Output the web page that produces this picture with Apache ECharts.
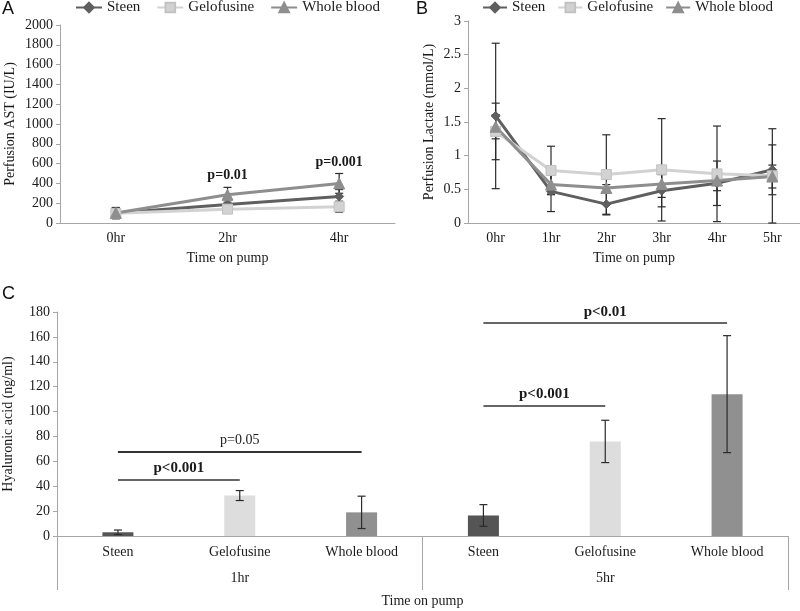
<!DOCTYPE html>
<html><head><meta charset="utf-8">
<script src="https://cdn.jsdelivr.net/npm/echarts@6/dist/echarts.min.js"></script>
<style>html,body{margin:0;padding:0;background:#fff}#c{width:800px;height:611px}</style>
</head><body><div id="c"></div>
<script>
// ---- Panel A data ----
const hoursA = ['0hr', '2hr', '4hr'];
const astSteen = [100, 188, 268];
const astSteenErr = [55, 45, 70];
const astGelo = [98, 140, 165];
const astGeloErr = [55, 40, 55];
const astWhole = [102, 285, 400];
const astWholeErr = [55, 75, 100];
const astPLabels = ['', 'p=0.01', 'p=0.001'];
const astPLevels = [null, 485, 616];

// ---- Panel B data ----
const hoursB = ['0hr', '1hr', '2hr', '3hr', '4hr', '5hr'];
const lacSteen = [1.59, 0.47, 0.28, 0.48, 0.59, 0.79];
const lacSteenErr = [1.08, 0.30, 0.16, 0.24, 0.33, 0.37];
const lacGelo = [1.36, 0.78, 0.72, 0.79, 0.73, 0.70];
const lacGeloErr = [0.42, 0.36, 0.59, 0.76, 0.71, 0.70];
const lacWhole = [1.43, 0.57, 0.52, 0.58, 0.63, 0.69];
const lacWholeErr = [0.18, 0.14, 0.05, 0.20, 0.15, 0.17];

// ---- Panel C data ----
const groupsC = ['Steen', 'Gelofusine', 'Whole blood', 'Steen', 'Gelofusine', 'Whole blood'];
const timesC = ['1hr', '5hr'];
const haValues = [3, 32.5, 19, 16.5, 76, 114];
const haErr = [1.8, 4, 13, 8.7, 17, 47];
const bracketFrom = [0, 0, 3, 3];
const bracketTo = [1, 2, 4, 5];
const bracketLevel = [45.4, 67.7, 104.5, 171];
const bracketText = ['p<0.001', 'p=0.05', 'p<0.001', 'p<0.01'];
const bracketBold = [true, false, true, true];

const FONT = 'Liberation Serif';
const AXC = '#a6a6a6';
const TXT = '#1a1a1a';
const cSteen = '#5f5f5f', cGelo = '#d2d2d2', cWhole = '#8e8e8e';
const barColors = ['#555555', '#dddddd', '#909090'];

function errItem(params, api) {
  const x = api.value(0), lo = api.value(1), hi = api.value(2);
  const p1 = api.coord([x, hi]), p2 = api.coord([x, lo]);
  const w = 4;
  const style = { stroke: '#2a2a2a', lineWidth: 1.2 };
  return { type: 'group', children: [
    { type: 'line', shape: { x1: p1[0], y1: p1[1], x2: p2[0], y2: p2[1] }, style },
    { type: 'line', shape: { x1: p1[0] - w, y1: p1[1], x2: p1[0] + w, y2: p1[1] }, style },
    { type: 'line', shape: { x1: p2[0] - w, y1: p2[1], x2: p2[0] + w, y2: p2[1] }, style }
  ]};
}
function errSeries(name, vals, errs, xi, yi, z) {
  return { type: 'custom', name, xAxisIndex: xi, yAxisIndex: yi, renderItem: errItem,
    encode: { x: 0, y: [1, 2] }, z: z || 2, silent: true,
    data: vals.map((v, i) => [i, Math.max(0, v - errs[i]), v + errs[i]]) };
}
function lineSeries(name, data, xi, yi, color, symbol, size, border) {
  return { type: 'line', name, xAxisIndex: xi, yAxisIndex: yi, data, symbol, symbolSize: size,
    lineStyle: { color, width: 3 }, itemStyle: { color, borderColor: border || color, borderWidth: 1 }, z: 3 };
}

const axisLabel = { fontFamily: FONT, fontSize: 14, color: TXT };
const nameStyle = { fontFamily: FONT, fontSize: 14, color: TXT };

function yAxisDef(grid, max, interval, name, gap) {
  return { type: 'value', gridIndex: grid, min: 0, max, interval, name, nameLocation: 'middle', nameGap: gap,
    nameTextStyle: nameStyle, splitLine: { show: false },
    axisLine: { show: true, lineStyle: { color: AXC } },
    axisTick: { show: true, length: 4, lineStyle: { color: AXC } },
    axisLabel: Object.assign({ margin: 7, formatter: v => String(v) }, axisLabel) };
}

const series = [
  errSeries('eAs', astSteen, astSteenErr, 0, 0),
  errSeries('eAg', astGelo, astGeloErr, 0, 0),
  errSeries('eAw', astWhole, astWholeErr, 0, 0),
  lineSeries('Steen', astSteen, 0, 0, cSteen, 'diamond', 9),
  lineSeries('Gelofusine', astGelo, 0, 0, cGelo, 'rect', 10, '#c2c2c2'),
  Object.assign(lineSeries('Whole blood', astWhole, 0, 0, cWhole, 'triangle', 11), {
    markPoint: { symbol: 'circle', symbolSize: 1, itemStyle: { color: 'rgba(0,0,0,0)' },
      label: { show: true, position: 'inside', formatter: p => p.name, fontFamily: FONT, fontSize: 14, fontWeight: 'bold', color: TXT },
      data: hoursA.map((h, i) => astPLabels[i] ? { name: astPLabels[i], coord: [i, astPLevels[i]] } : null).filter(Boolean) }
  }),
  errSeries('eBs', lacSteen, lacSteenErr, 1, 1),
  errSeries('eBg', lacGelo, lacGeloErr, 1, 1),
  errSeries('eBw', lacWhole, lacWholeErr, 1, 1),
  lineSeries('Steen', lacSteen, 1, 1, cSteen, 'diamond', 9),
  lineSeries('Gelofusine', lacGelo, 1, 1, cGelo, 'rect', 10, '#c2c2c2'),
  lineSeries('Whole blood', lacWhole, 1, 1, cWhole, 'triangle', 11),
  { type: 'bar', name: 'HA', xAxisIndex: 2, yAxisIndex: 2, data: haValues, barWidth: 31,
    itemStyle: { color: p => barColors[p.dataIndex % 3] }, z: 2,
    markLine: { symbol: 'none', silent: true,
      data: bracketFrom.map((f, i) => [
        { coord: [f, bracketLevel[i]], lineStyle: { color: '#333', width: bracketBold[i] ? 1.5 : 2.2, type: 'solid' },
          label: { show: true, position: 'insideMiddleTop', distance: 4, formatter: bracketText[i], fontFamily: FONT, fontSize: bracketBold[i] ? 15 : 14, fontWeight: bracketBold[i] ? 'bold' : 'normal', color: TXT } },
        { coord: [bracketTo[i], bracketLevel[i]] }
      ]) } },
  errSeries('eC', haValues, haErr, 2, 2, 5)
];

const legendBase = { itemHeight: 12, top: 0, padding: 0, width: 340,
  textStyle: { fontFamily: FONT, fontSize: 15, color: TXT }, data: ['Steen', 'Gelofusine', 'Whole blood'] };

const option = {
  animation: false,
  backgroundColor: '#fff',
  legend: [Object.assign({ left: 75, itemWidth: 26, itemGap: 16 }, legendBase),
           Object.assign({ left: 482, itemWidth: 24, itemGap: 12 }, legendBase)],
  grid: [
    { left: 60, top: 25, width: 335, height: 198, outerBoundsMode: 'none', containLabel: false },
    { left: 468, top: 21, width: 332, height: 202, outerBoundsMode: 'none', containLabel: false },
    { left: 57, top: 312, width: 731, height: 224, outerBoundsMode: 'none', containLabel: false }
  ],
  xAxis: [
    { type: 'category', gridIndex: 0, data: hoursA, name: 'Time on pump', nameLocation: 'middle', nameGap: 28,
      nameTextStyle: nameStyle, axisLine: { lineStyle: { color: AXC } }, axisTick: { show: false },
      axisLabel: Object.assign({ margin: 8 }, axisLabel) },
    { type: 'category', gridIndex: 1, data: hoursB, name: 'Time on pump', nameLocation: 'middle', nameGap: 28,
      nameTextStyle: nameStyle, axisLine: { lineStyle: { color: AXC } }, axisTick: { show: false },
      axisLabel: Object.assign({ margin: 8 }, axisLabel) },
    { type: 'category', gridIndex: 2, data: groupsC, axisLine: { lineStyle: { color: AXC } }, axisTick: { show: false },
      axisLabel: Object.assign({ margin: 9, interval: 0 }, axisLabel) },
    { type: 'category', gridIndex: 2, data: timesC, position: 'bottom', name: 'Time on pump', nameLocation: 'middle', nameGap: 58,
      nameTextStyle: nameStyle, axisLine: { show: false },
      axisTick: { show: true, length: 54, interval: 0, lineStyle: { color: AXC } },
      axisLabel: Object.assign({ margin: 35, interval: 0 }, axisLabel) }
  ],
  yAxis: [
    yAxisDef(0, 2000, 200, 'Perfusion AST (IU/L)', 43),
    yAxisDef(1, 3, 0.5, 'Perfusion Lactate (mmol/L)', 32),
    yAxisDef(2, 180, 20, 'Hyaluronic acid (ng/ml)', 42)
  ],
  graphic: [
    { type: 'text', left: 2, top: 0, style: { text: 'A', fontFamily: 'Liberation Sans', fontSize: 18, fill: '#111' } },
    { type: 'text', left: 416, top: 0, style: { text: 'B', fontFamily: 'Liberation Sans', fontSize: 18, fill: '#111' } },
    { type: 'text', left: 2, top: 285, style: { text: 'C', fontFamily: 'Liberation Sans', fontSize: 18, fill: '#111' } }
  ],
  series
};
const chart = echarts.init(document.getElementById('c'));
chart.setOption(option);
</script></body></html>
